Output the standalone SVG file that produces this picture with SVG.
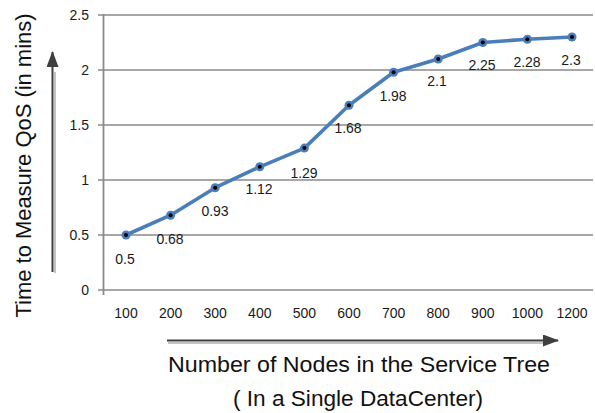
<svg xmlns="http://www.w3.org/2000/svg" width="595" height="413" viewBox="0 0 595 413">
  <style>
    .grid { stroke: #8a8a8a; stroke-width: 1.6; fill: none; }
    .axis { stroke: #8a8a8a; stroke-width: 1.8; fill: none; }
    .tick { font-family: "Liberation Sans", Arial, sans-serif; font-size: 14px; fill: #1a1a1a; }
    .ylab { text-anchor: end; }
    .xlab { text-anchor: middle; }
    .val { font-family: "Liberation Sans", Arial, sans-serif; font-size: 14px; fill: #1a1a1a; text-anchor: middle; }
    .title { font-family: "Liberation Sans", Arial, sans-serif; font-size: 22px; fill: #111; }
    .series { stroke: #4a7ebb; stroke-width: 3.6; fill: none; stroke-linejoin: round; stroke-linecap: round; }
    .mk { fill: #4a7ebb; }
    .dot { fill: #000; }
    .arrow { stroke: #3f3f3f; stroke-width: 2; fill: none; }
    .arrowShadow { stroke: #c4c4c4; stroke-width: 2; fill: none; }
  </style>
  <defs>
    <marker id="head" viewBox="0 0 16 12" refX="15" refY="6" markerWidth="16" markerHeight="12" markerUnits="userSpaceOnUse" orient="auto">
      <path d="M0,0 L16,6 L0,12 Z" fill="#3f3f3f"/>
    </marker>
  </defs>
  <rect width="595" height="413" fill="#ffffff"/>

  <!-- horizontal gridlines -->
  <g id="gridlines">
    <line class="grid" x1="98" y1="15" x2="593" y2="15"/>
    <line class="grid" x1="98" y1="70" x2="593" y2="70"/>
    <line class="grid" x1="98" y1="125" x2="593" y2="125"/>
    <line class="grid" x1="98" y1="180" x2="593" y2="180"/>
    <line class="grid" x1="98" y1="235" x2="593" y2="235"/>
    <line class="grid" x1="98" y1="290" x2="593" y2="290"/>
    <line class="axis" x1="103.5" y1="14" x2="103.5" y2="295"/>
  </g>

  <!-- value axis labels -->
  <g id="y-labels" class="tick ylab">
    <text x="89" y="20">2.5</text>
    <text x="89" y="75">2</text>
    <text x="89" y="130">1.5</text>
    <text x="89" y="185">1</text>
    <text x="89" y="240">0.5</text>
    <text x="89" y="295">0</text>
  </g>

  <!-- category axis labels -->
  <g id="x-labels" class="tick xlab">
    <text x="126" y="318">100</text>
    <text x="170.6" y="318">200</text>
    <text x="215.2" y="318">300</text>
    <text x="259.8" y="318">400</text>
    <text x="304.4" y="318">500</text>
    <text x="349" y="318">600</text>
    <text x="393.6" y="318">700</text>
    <text x="438.2" y="318">800</text>
    <text x="482.8" y="318">900</text>
    <text x="527.4" y="318">1000</text>
    <text x="572" y="318">1200</text>
  </g>

  <!-- data series -->
  <g id="series">
    <polyline class="series" points="126,235 170.6,215.2 215.2,187.7 259.8,166.8 304.4,148.1 349,105.2 393.6,72.2 438.2,59 482.8,42.5 527.4,39.2 572,37"/>
    <g class="mk">
      <circle cx="126" cy="235" r="4.5"/>
      <circle cx="170.6" cy="215.2" r="4.5"/>
      <circle cx="215.2" cy="187.7" r="4.5"/>
      <circle cx="259.8" cy="166.8" r="4.5"/>
      <circle cx="304.4" cy="148.1" r="4.5"/>
      <circle cx="349" cy="105.2" r="4.5"/>
      <circle cx="393.6" cy="72.2" r="4.5"/>
      <circle cx="438.2" cy="59" r="4.5"/>
      <circle cx="482.8" cy="42.5" r="4.5"/>
      <circle cx="527.4" cy="39.2" r="4.5"/>
      <circle cx="572" cy="37" r="4.5"/>
    </g>
    <g class="dot">
      <circle cx="126" cy="235" r="2"/>
      <circle cx="170.6" cy="215.2" r="2"/>
      <circle cx="215.2" cy="187.7" r="2"/>
      <circle cx="259.8" cy="166.8" r="2"/>
      <circle cx="304.4" cy="148.1" r="2"/>
      <circle cx="349" cy="105.2" r="2"/>
      <circle cx="393.6" cy="72.2" r="2"/>
      <circle cx="438.2" cy="59" r="2"/>
      <circle cx="482.8" cy="42.5" r="2"/>
      <circle cx="527.4" cy="39.2" r="2"/>
      <circle cx="572" cy="37" r="2"/>
    </g>
  </g>

  <!-- point value labels -->
  <g id="values" class="val">
    <text x="125" y="264">0.5</text>
    <text x="170" y="244">0.68</text>
    <text x="215" y="216">0.93</text>
    <text x="259" y="194">1.12</text>
    <text x="304" y="178">1.29</text>
    <text x="348" y="133">1.68</text>
    <text x="393" y="101">1.98</text>
    <text x="437" y="86">2.1</text>
    <text x="482" y="70">2.25</text>
    <text x="527" y="67">2.28</text>
    <text x="571" y="65">2.3</text>
  </g>

  <!-- axis direction arrows -->
  <g id="connectors">
    <line class="arrowShadow" x1="55" y1="72" x2="55" y2="273"/>
    <line class="arrow" x1="52.5" y1="272" x2="52.5" y2="52" marker-end="url(#head)"/>
    <line class="arrowShadow" x1="168" y1="343" x2="546" y2="343"/>
    <line class="arrow" x1="167" y1="340.5" x2="558" y2="340.5" marker-end="url(#head)"/>
  </g>

  <!-- axis titles -->
  <g id="y-title">
    <text class="title" transform="translate(31,165.5) rotate(-90)" text-anchor="middle" textLength="304" lengthAdjust="spacingAndGlyphs">Time to Measure QoS (in mins)</text>
  </g>
  <g id="x-title">
    <text class="title" x="359" y="372" text-anchor="middle" textLength="382" lengthAdjust="spacingAndGlyphs">Number of Nodes in the Service Tree</text>
    <text class="title" x="358" y="406" text-anchor="middle" textLength="250" lengthAdjust="spacingAndGlyphs">( In a Single DataCenter)</text>
  </g>
</svg>
